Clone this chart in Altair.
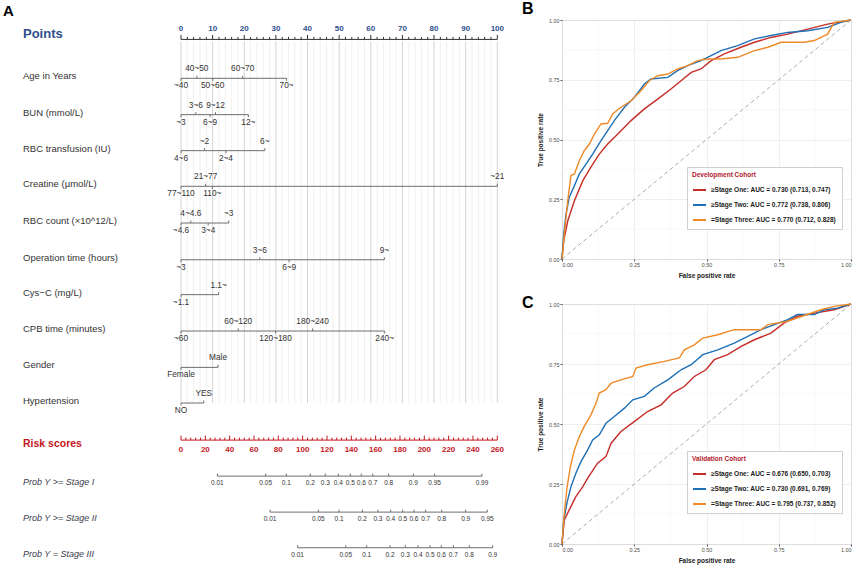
import altair as alt
import pandas as pd

FONT = "Liberation Sans"

# ---------------- Panel A: nomogram values ----------------
points_major = list(range(0, 101, 10))
points_minor = list(range(0, 101, 2))
risk_major = list(range(0, 261, 20))
risk_minor = list(range(0, 261, 4))
risk_max = 260

var_names = ["Age in Years", "BUN (mmol/L)", "RBC transfusion (IU)", "Creatine (μmol/L)",
             "RBC count (×10^12/L)", "Operation time (hours)", "Cys−C (mg/L)",
             "CPB time (minutes)", "Gender", "Hypertension"]
var_levels = [
    ["~40", "40~50", "50~60", "60~70", "70~"],
    ["~3", "3~6", "6~9", "9~12", "12~"],
    ["4~6", "~2", "2~4", "6~"],
    ["77~110", "21~77", "110~", "~21"],
    ["~4.6", "4~4.6", "3~4", "~3"],
    ["~3", "3~6", "6~9", "9~"],
    ["~1.1", "1.1~"],
    ["~60", "60~120", "120~180", "180~240", "240~"],
    ["Female", "Male"],
    ["NO", "YES"],
]
var_points = [
    [0, 5.0, 10.0, 19.5, 33.4],
    [0, 4.7, 9.2, 10.9, 21.3],
    [0, 7.4, 14.2, 26.5],
    [0, 7.8, 9.9, 100],
    [0, 3.1, 8.6, 15.1],
    [0, 24.9, 34.2, 64.3],
    [0, 11.9],
    [0, 18.1, 29.9, 41.6, 64.4],
    [0, 11.7],
    [0, 7.2],
]

prob_names = ["Prob Y >= Stage I", "Prob Y >= Stage II", "Prob Y = Stage III"]
prob_levels = [
    ["0.01", "0.05", "0.1", "0.2", "0.3", "0.4", "0.5", "0.6", "0.7", "0.8", "0.9", "0.95", "0.99"],
    ["0.01", "0.05", "0.1", "0.2", "0.3", "0.4", "0.5", "0.6", "0.7", "0.8", "0.9", "0.95"],
    ["0.01", "0.05", "0.1", "0.2", "0.3", "0.4", "0.5", "0.6", "0.7", "0.8", "0.9"],
]
prob_scores = [  # positions on the risk-score scale
    [29.9, 69.6, 86.6, 106.3, 118.6, 129.3, 139.2, 148.2, 157.6, 170.7, 191.0, 208.5, 247.4],
    [73.2, 112.9, 129.9, 149.1, 161.9, 172.3, 182.2, 191.5, 201.1, 214.3, 234.0, 251.8],
    [95.9, 135.4, 152.6, 171.8, 184.4, 194.8, 204.7, 214.0, 223.9, 237.0, 256.2],
]

# ---------------- Panels B, C: ROC values ----------------
roc_ticks = [0, 0.25, 0.5, 0.75, 1]
roc_minor = [0.125, 0.375, 0.625, 0.875]
roc_colors = ["#C62D28", "#1F6FB6", "#EE8A28"]
dev_labels = ["≥Stage One: AUC = 0.730 (0.713, 0.747)",
              "≥Stage Two: AUC = 0.772 (0.738, 0.806)",
              "=Stage Three: AUC = 0.770 (0.712, 0.828)"]
val_labels = ["≥Stage One: AUC = 0.676 (0.650, 0.703)",
              "≥Stage Two: AUC = 0.730 (0.691, 0.769)",
              "=Stage Three: AUC = 0.795 (0.737, 0.852)"]

dev_red_fpr = [0, .006, .02, .043, .072, .1, .129, .158, .193, .239, .285, .331, .377, .412, .447, .481, .516, .562, .619, .666, .723, .781, .85, .919, 1]
dev_red_tpr = [0, .077, .16, .244, .328, .384, .439, .481, .523, .579, .628, .669, .711, .746, .781, .795, .830, .858, .886, .907, .927, .941, .962, .983, 1]
dev_blue_fpr = [0, .006, .014, .025, .043, .06, .083, .106, .135, .158, .181, .216, .25, .285, .308, .366, .4, .435, .481, .516, .55, .608, .666, .723, .781, .85, .919, .965, 1]
dev_blue_tpr = [0, .105, .188, .258, .307, .356, .397, .439, .495, .537, .579, .635, .676, .732, .753, .760, .788, .809, .830, .851, .872, .893, .921, .935, .948, .955, .969, .99, 1]
dev_orng_fpr = [0, .008, .02, .031, .043, .06, .077, .095, .112, .135, .158, .175, .204, .239, .273, .302, .331, .366, .4, .435, .469, .504, .55, .608, .666, .712, .758, .839, .873, .919, .942, 1]
dev_orng_tpr = [0, .105, .244, .349, .356, .411, .453, .481, .523, .565, .568, .607, .635, .662, .704, .746, .767, .774, .795, .809, .830, .837, .837, .844, .872, .886, .907, .907, .914, .941, .99, 1]

val_red_fpr = [0, .008, .025, .048, .072, .089, .123, .152, .170, .204, .25, .296, .343, .383, .423, .458, .498, .527, .573, .620, .666, .723, .769, .815, .873, .942, 1]
val_red_tpr = [0, .1, .142, .197, .239, .274, .337, .364, .420, .469, .510, .552, .580, .629, .656, .698, .726, .768, .789, .823, .851, .879, .921, .949, .962, .976, 1]
val_blue_fpr = [0, .006, .017, .031, .048, .066, .089, .106, .129, .152, .181, .216, .245, .285, .319, .366, .412, .447, .487, .539, .596, .643, .689, .735, .781, .815, .873, .908, .954, 1]
val_blue_tpr = [0, .1, .17, .239, .295, .344, .392, .434, .455, .503, .531, .566, .601, .615, .65, .684, .726, .747, .789, .809, .837, .865, .893, .914, .935, .956, .956, .976, .983, 1]
val_orng_fpr = [0, .008, .017, .029, .043, .06, .077, .1, .118, .129, .152, .170, .204, .245, .256, .296, .354, .406, .423, .458, .487, .539, .596, .689, .712, .781, .896, .942, 1]
val_orng_tpr = [0, .128, .232, .323, .392, .448, .490, .538, .587, .629, .643, .670, .684, .698, .733, .747, .761, .775, .809, .830, .858, .872, .893, .893, .914, .928, .976, .99, 1]

# ---------------- layout of panel A ----------------
ORIGIN_Y = 19.0           # plot origin of the nomogram (panel letters sit above it)
W_A, H_A = 537, 549
PX0, PX_PER_PT = 181.0, 3.163
ROW1_PX, ROW_PX = 77.3 - ORIGIN_Y, 36.0
points_row = -0.08
var_rows = [1.0, 2.01, 3.01, 4.0, 5.02, 6.04, 7.01, 8.02, 9.03, 10.02]
risk_row = 11.05
prob_rows = [12.05, 13.05, 14.04]

xs = alt.Scale(domain=[-PX0 / PX_PER_PT, (W_A - PX0) / PX_PER_PT], nice=False, zero=False)
ys = alt.Scale(domain=[1 - ROW1_PX / ROW_PX, 1 + (H_A - ROW1_PX) / ROW_PX], nice=False, zero=False, reverse=True)


def r_off(px):
    return px / ROW_PX


def to_pts(score):
    return score * 100.0 / risk_max


gray_seg, gray_tick = [], []
ax_tick, red_tick = [], []
lab_var, lab_pts, lab_risk, lab_prob = [], [], [], []

for row, levels, pts in zip(var_rows, var_levels, var_points):
    gray_seg.append(dict(x=0, x2=max(pts), row=row))
    for i, (lv, p) in enumerate(zip(levels, pts)):
        up = i % 2 == 1
        gray_tick.append(dict(x=p, row=row, row2=row - r_off(2.5) if up else row + r_off(2.5)))
        lab_var.append(dict(x=p, row=row - r_off(9) if up else row + r_off(8), text=lv))

for row, levels, sc in zip(prob_rows, prob_levels, prob_scores):
    xp = [to_pts(s) for s in sc]
    gray_seg.append(dict(x=min(xp), x2=max(xp), row=row))
    for lv, p in zip(levels, xp):
        gray_tick.append(dict(x=p, row=row, row2=row - r_off(2.5)))
        lab_prob.append(dict(x=p, row=row + r_off(7), text=lv))

for v in points_minor:
    L = 4.5 if v % 10 == 0 else 2.5
    ax_tick.append(dict(x=v, row=points_row, row2=points_row - r_off(L)))
for v in points_major:
    lab_pts.append(dict(x=v, row=points_row - r_off(10), text=str(v)))

for v in risk_minor:
    L = 4.5 if v % 20 == 0 else 2.5
    red_tick.append(dict(x=to_pts(v), row=risk_row, row2=risk_row - r_off(L)))
for v in risk_major:
    lab_risk.append(dict(x=to_pts(v), row=risk_row + r_off(10), text=str(v)))

grid = pd.DataFrame([dict(x=v, row=points_row + r_off(2), row2=var_rows[-1], major=(v % 10 == 0))
                     for v in points_minor])

X = alt.X("x:Q", scale=xs, axis=None)
Y = alt.Y("row:Q", scale=ys, axis=None)
Y2 = alt.Y2("row2:Q")


def rules(df, color, width=1.0):
    return alt.Chart(pd.DataFrame(df)).mark_rule(color=color, strokeWidth=width).encode(x=X, y=Y, y2=Y2)


def segs(df, color, width=1.0):
    return alt.Chart(pd.DataFrame(df)).mark_rule(color=color, strokeWidth=width).encode(
        x=X, x2=alt.X2("x2:Q"), y=Y)


def texts(df, size, color, weight="normal", style="normal", align="center", xval=None):
    enc = dict(y=Y, text="text:N")
    enc["x"] = alt.value(xval) if xval is not None else X
    return alt.Chart(pd.DataFrame(df)).mark_text(
        font=FONT, fontSize=size, color=color, fontWeight=weight, fontStyle=style,
        align=align, baseline="middle").encode(**enc)


def letter(text, size, xpx, ypx):
    return alt.Chart(pd.DataFrame({"text": [text]})).mark_text(
        font=FONT, fontSize=size, fontWeight="bold", color="#000000", align="left",
        baseline="alphabetic").encode(x=alt.value(xpx), y=alt.value(ypx), text="text:N")


BLUE_T = "#2F4F8E"
RED_T = "#C4161C"

grid_minor = alt.Chart(grid[~grid.major]).mark_rule(color="#ECECEC", strokeWidth=0.8).encode(x=X, y=Y, y2=Y2)
grid_major = alt.Chart(grid[grid.major]).mark_rule(color="#D4D4D4", strokeWidth=1).encode(x=X, y=Y, y2=Y2)

row_titles = pd.DataFrame(dict(row=[r - r_off(2) for r in var_rows], text=var_names))
prob_titles = pd.DataFrame(dict(row=[r + r_off(6) for r in prob_rows], text=prob_names))

nomo = alt.layer(
    grid_minor, grid_major,
    segs(gray_seg, "#6E6E6E"),
    rules(gray_tick, "#6E6E6E"),
    segs([dict(x=0, x2=100, row=points_row)], "#333333"),
    rules(ax_tick, "#333333"),
    segs([dict(x=0, x2=100, row=risk_row)], RED_T),
    rules(red_tick, RED_T),
    texts(lab_var, 8.3, "#333333"),
    texts(lab_prob, 6.5, "#333333"),
    texts(lab_pts, 8, BLUE_T, weight="bold"),
    texts(lab_risk, 8, RED_T, weight="bold"),
    texts(row_titles, 9.5, "#333333", align="left", xval=23),
    texts(prob_titles, 9, "#3A3A4C", style="italic", align="left", xval=23),
    texts([dict(row=points_row - r_off(5), text="Points")], 13, BLUE_T, weight="bold", align="left", xval=23),
    texts([dict(row=risk_row + r_off(4), text="Risk scores")], 10.5, RED_T, weight="bold", align="left", xval=23),
    letter("A", 15, 3, 15.0 - ORIGIN_Y),
    letter("B", 16, 522, -6.2),
    letter("C", 16, 522, 306.7 - ORIGIN_Y),
).properties(width=W_A, height=H_A, view=alt.ViewBackground(strokeOpacity=0))


# ---------------- ROC panels ----------------
def roc(fprs, tprs, labels, legend_title, height):
    rows = []
    for f, t, lab in zip(fprs, tprs, labels):
        for k, (a, b) in enumerate(zip(f, t)):
            rows.append(dict(fpr=a, tpr=b, series=lab, order=k))
    df = pd.DataFrame(rows)
    sc = alt.Scale(domain=[0, 1], nice=False, zero=False)
    common = dict(values=roc_ticks, format=".2f", grid=True, gridColor="#EBEBEB", gridWidth=0.8,
                  domain=False, tickSize=2, tickColor="#555555", labelFontSize=5.4, labelColor="#4D4D4D",
                  labelPadding=1, titleFontSize=6.5, titleFontWeight="bold", titleColor="#1A1A1A",
                  labelFont=FONT, titleFont=FONT)
    XR = alt.X("fpr:Q", scale=sc, axis=alt.Axis(title="False positive rate", titlePadding=5, **common))
    YR = alt.Y("tpr:Q", scale=sc, axis=alt.Axis(title="True positive rate", titlePadding=5, **common))
    mv = alt.Chart(pd.DataFrame({"fpr": roc_minor})).mark_rule(color="#F3F3F3", strokeWidth=0.6).encode(x=XR)
    mh = alt.Chart(pd.DataFrame({"tpr": roc_minor})).mark_rule(color="#F3F3F3", strokeWidth=0.6).encode(y=YR)
    diag = alt.Chart(pd.DataFrame({"fpr": [0, 1], "tpr": [0, 1]})).mark_line(
        color="#ADADAD", strokeDash=[4, 3], strokeWidth=1).encode(x=XR, y=YR)
    curves = alt.Chart(df).mark_line(strokeWidth=1.4).encode(
        x=XR, y=YR, order="order:Q",
        color=alt.Color("series:N", scale=alt.Scale(domain=labels, range=roc_colors),
                        legend=alt.Legend(orient="none", legendX=125, legendY=147, title=legend_title,
                                          titleColor="#B2182B", titleFontSize=6.5, titleFontWeight="bold",
                                          titleFont=FONT, labelFont=FONT, labelFontSize=6.5,
                                          labelFontWeight="bold", labelColor="#1A1A1A", labelLimit=400,
                                          symbolType="stroke", symbolSize=169, symbolStrokeWidth=2,
                                          fillColor="white", strokeColor="#CFCFCF", padding=5,
                                          rowPadding=3, titlePadding=4, labelOffset=4)))
    return alt.layer(mv, mh, diag, curves).properties(
        width=289, height=height,
        view=alt.ViewBackground(stroke="#A8A8A8", strokeWidth=1))


rocB = roc([dev_red_fpr, dev_blue_fpr, dev_orng_fpr], [dev_red_tpr, dev_blue_tpr, dev_orng_tpr],
           dev_labels, "Development Cohort", 239)
rocC = roc([val_red_fpr, val_blue_fpr, val_orng_fpr], [val_red_tpr, val_blue_tpr, val_orng_tpr],
           val_labels, "Validation Cohort", 240)

right = alt.vconcat(rocB, rocC, spacing=20).resolve_scale(color="independent")
chart = alt.hconcat(nomo, right, spacing=0).resolve_scale(color="independent").properties(
    padding=0, background="white")

chart.save("out.html", embed_options={"renderer": "svg", "actions": False})
